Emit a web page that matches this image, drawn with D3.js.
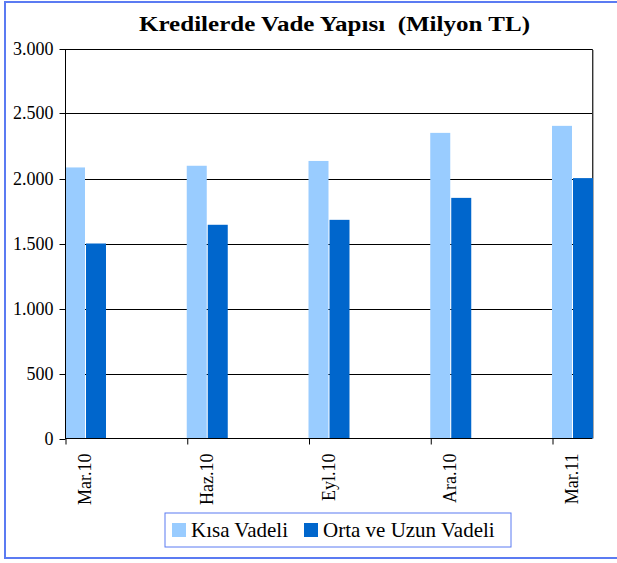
<!DOCTYPE html>
<html>
<head>
<meta charset="utf-8">
<script src="https://cdn.jsdelivr.net/npm/d3@7"></script>
<style>
html,body{margin:0;padding:0;background:#fff;}
svg{display:block;}
</style>
</head>
<body>
<svg id="chart" width="617" height="563"></svg>
<script>
const categories = ["Mar.10", "Haz.10", "Eyl.10", "Ara.10", "Mar.11"];
const kisaVadeli = [2085, 2098, 2135, 2351, 2405];
const ortaUzunVadeli = [1500, 1644, 1682, 1851, 2003];
const seriesNames = ["Kısa Vadeli", "Orta ve Uzun Vadeli"];
const seriesColors = ["#99CCFF", "#0066CC"];
const yTicks = [0, 500, 1000, 1500, 2000, 2500, 3000];
const titleText = "Kredilerde Vade Yapısı  (Milyon TL)";

(function () {
const svg = d3.select("#chart");
const fSerif = "'Liberation Serif', 'Times New Roman', 'DejaVu Serif', serif";

// outer frame
svg.append("rect").attr("x", 5).attr("y", 2).attr("width", 700).attr("height", 556)
  .attr("fill", "none").attr("stroke", "#5b7bf2").attr("stroke-width", 2);

const pLeft = 65, pRight = 592, pTop = 48.5, pBottom = 438.5;
const barW = 20, gap = 1;

const x = d3.scalePoint().domain(categories).range([pLeft, pRight - 2 * barW]);
const y = d3.scaleLinear().domain([0, 3000]).range([pBottom, pTop]);

// gridlines
svg.append("g").selectAll("line").data(yTicks.filter(d => d > 0)).join("line")
  .attr("x1", pLeft).attr("x2", pRight)
  .attr("y1", d => Math.round(y(d)) + 0.5).attr("y2", d => Math.round(y(d)) + 0.5)
  .attr("stroke", "#000").attr("stroke-width", 1);

// right edge of plot area
svg.append("line").attr("x1", pRight + 0.5).attr("x2", pRight + 0.5)
  .attr("y1", Math.round(y(3000))).attr("y2", pBottom)
  .attr("stroke", "#333").attr("stroke-width", 1);
svg.append("line").attr("x1", pRight + 1.5).attr("x2", pRight + 1.5)
  .attr("y1", Math.round(y(3000)) + 1).attr("y2", pBottom)
  .attr("stroke", "#aaa").attr("stroke-width", 1);

// bars
const data = categories.map((c, i) => ({c, vals: [kisaVadeli[i], ortaUzunVadeli[i]]}));
const groups = svg.append("g").selectAll("g").data(data).join("g");
groups.selectAll("rect").data(d => d.vals.map((v, j) => ({c: d.c, v, j}))).join("rect")
  .attr("x", d => x(d.c) + d.j * (barW + gap))
  .attr("y", d => y(d.v))
  .attr("width", barW)
  .attr("height", d => pBottom - y(d.v))
  .attr("fill", d => seriesColors[d.j]);

// y axis
const yAxis = d3.axisLeft(y).tickValues(yTicks).tickSize(6).tickPadding(6)
  .tickFormat(d => d3.format(",")(d).replace(/,/g, "."));
const yg = svg.append("g").attr("transform", `translate(${pLeft + 0.5},0)`).call(yAxis);
yg.attr("font-family", fSerif).attr("font-size", 18);
yg.selectAll("path").attr("stroke", "#000").attr("d", `M0,${Math.round(y(3000))+0.5}V${pBottom}`);
yg.selectAll("line").attr("stroke", "#000");
yg.selectAll(".tick").attr("transform", d => `translate(0,${Math.round(y(d)) + 0.5})`);
yg.selectAll("text").attr("fill", "#000");

// x axis
const xAxis = d3.axisBottom(x).tickSize(6).tickFormat("");
const xg = svg.append("g").attr("transform", `translate(0,${pBottom})`).call(xAxis);
xg.selectAll("path").attr("stroke", "#000").attr("d", `M${pLeft},0H${pRight}`);
xg.selectAll("line").attr("stroke", "#000").attr("transform", "translate(0.5,0)");

// rotated category labels
svg.append("g").attr("font-family", fSerif).attr("font-size", 18)
  .selectAll("text").data(categories).join("text")
  .attr("transform", d => `translate(${x(d) + barW + 6},${pBottom + 15}) rotate(-90)`)
  .attr("text-anchor", "end").attr("fill", "#000")
  .text(d => d);

// title
svg.append("text").attr("x", 139).attr("y", 31)
  .attr("font-family", fSerif).attr("font-size", 20).attr("font-weight", "bold")
  .style("white-space", "pre")
  .attr("textLength", 391).attr("lengthAdjust", "spacingAndGlyphs")
  .text(titleText);

// legend
const lg = svg.append("g").attr("font-family", fSerif).attr("font-size", 21);
lg.append("rect").attr("x", 165).attr("y", 513).attr("width", 346).attr("height", 34)
  .attr("fill", "#fff").attr("stroke", "#5b7bf2").attr("stroke-width", 1);
const legendX = [172, 304];
seriesNames.forEach((name, i) => {
  lg.append("rect").attr("x", legendX[i]).attr("y", 523).attr("width", 14).attr("height", 14)
    .attr("fill", seriesColors[i]);
  lg.append("text").attr("x", legendX[i] + 19).attr("y", 537).attr("fill", "#000")
    .text(name);
});
})();
</script>
</body>
</html>
